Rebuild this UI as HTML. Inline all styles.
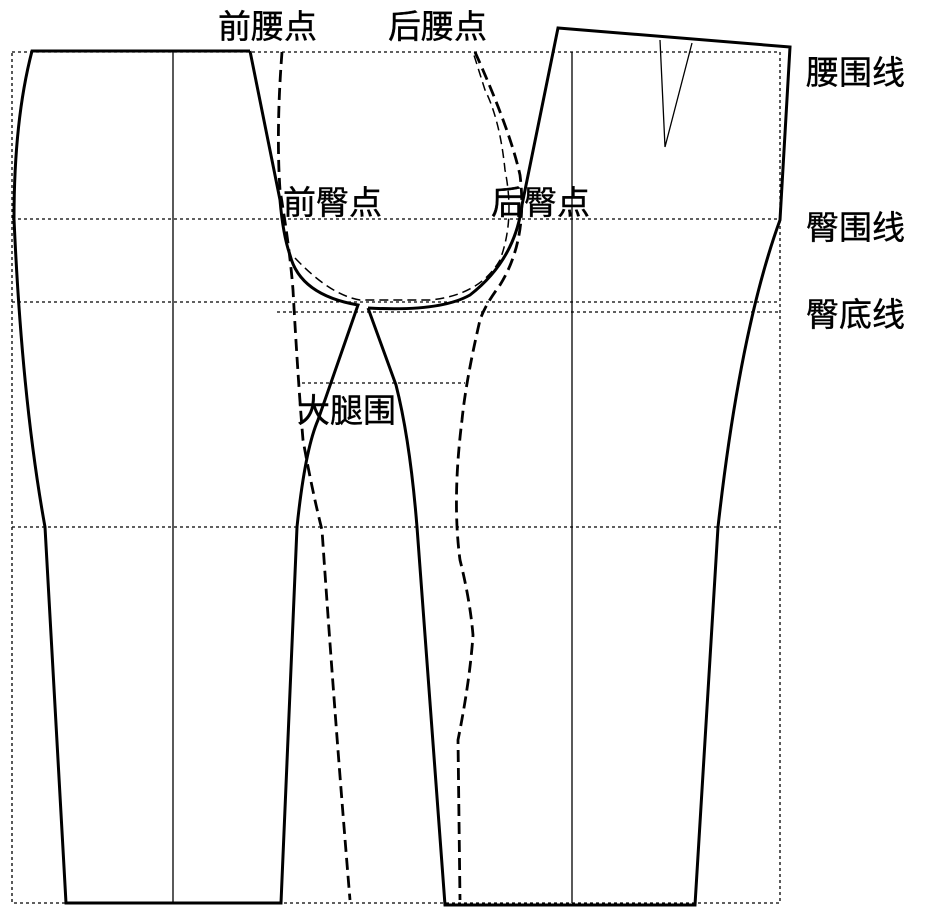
<!DOCTYPE html>
<html><head><meta charset="utf-8"><style>body{margin:0;background:#fff}svg{display:block}text{font-family:"Liberation Sans","Noto Sans CJK SC",sans-serif;font-size:33px;fill:#000;stroke:#000;stroke-width:0.4}</style></head><body>
<svg width="933" height="921" viewBox="0 0 933 921">
<g stroke="#000" stroke-width="1.3" stroke-dasharray="3,3" fill="none">
<rect x="12" y="52" width="768" height="851"/>
<line x1="12" y1="219" x2="780" y2="219"/>
<line x1="12" y1="302" x2="780" y2="302"/>
<line x1="277" y1="312" x2="780" y2="312"/>
<line x1="302" y1="383" x2="465" y2="383"/>
<line x1="12" y1="527" x2="780" y2="527"/>
</g>
<g stroke="#000" stroke-width="1.3" fill="none">
<line x1="173" y1="52" x2="173" y2="903"/>
<line x1="572" y1="52" x2="572" y2="903"/>
<polyline points="660,40 665,147 692,43"/>
</g>
<g stroke="#000" stroke-width="3" fill="none">
<path d="M250,51 L32,51 Q14,120 14,219 Q22,400 45,527 L66,903 L281,903 L297,527 Q305,450 318,420 L358,305 Q300,295 290,255 Q283,235 280,200 L250,51"/>
<path d="M368,308 L396,385 Q410,440 417,527 L445,905 L695,905 L718,527 Q740,330 780,220 L790,47 L558,28 L522,205 Q515,260 470,295 Q440,312 368,308"/>
</g>
<g stroke="#000" stroke-width="1.5" stroke-dasharray="9,5" fill="none">
<path d="M295,258 Q330,295 360,300 L430,300 Q480,295 500,260 Q515,220 505,170 Q500,120 485,90 L473,52"/>
</g>
<g stroke="#000" stroke-width="2.8" stroke-dasharray="12,6" fill="none">
<path d="M282,52 Q276,130 280,190 Q290,250 293,290 Q298,380 303,440 Q312,490 322,530 Q335,720 350,900"/>
<path d="M475,52 Q510,130 520,175 Q528,240 500,285 Q485,305 480,320 Q466,380 462,420 Q452,500 460,560 Q470,600 473,635 Q470,680 458,740 L460,900"/>
</g>
<text x="218" y="38">前腰点</text>
<text x="388" y="38">后腰点</text>
<text x="283" y="214">前臀点</text>
<text x="491" y="214">后臀点</text>
<text x="297" y="422">大腿围</text>
<text x="806" y="84">腰围线</text>
<text x="806" y="239">臀围线</text>
<text x="806" y="326">臀底线</text>
</svg>
</body></html>
